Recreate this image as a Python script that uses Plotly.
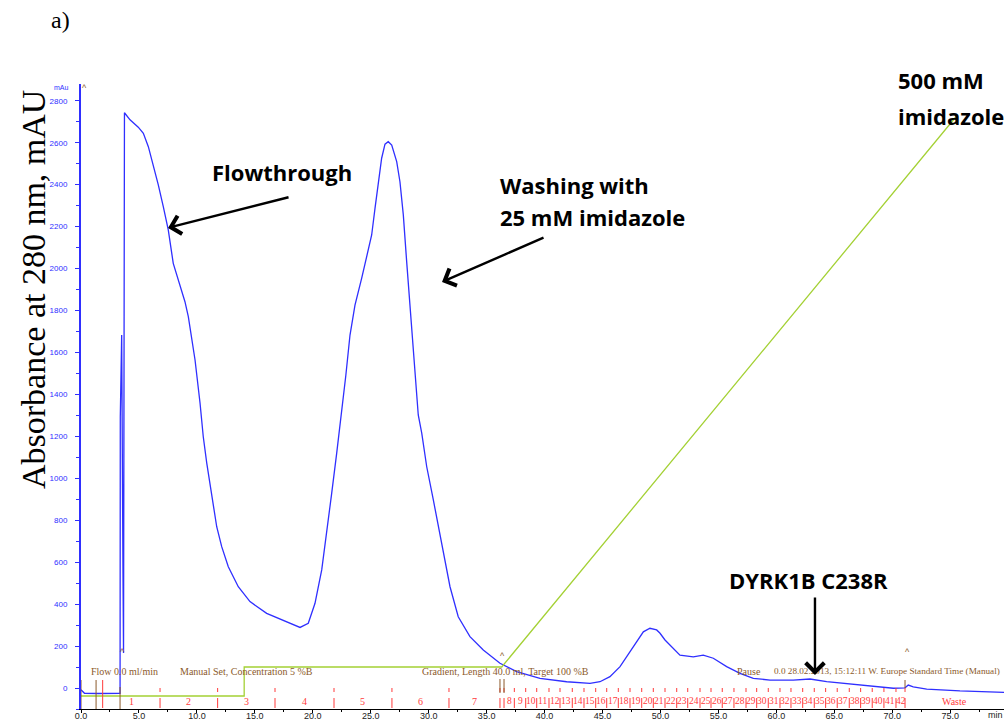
import plotly.graph_objects as go

# UV absorbance at 280 nm (time in min, absorbance in mAU)
uv_time = [0.00, 0.30, 1.50, 3.33, 3.37, 3.39, 3.51, 3.62, 3.67, 3.75, 4.23, 4.94, 5.38, 5.81,
           6.24, 6.67, 7.10, 7.53, 7.96, 8.54, 8.97, 9.26, 9.55, 9.84, 10.27, 10.55, 10.85, 11.28,
           11.71, 12.14, 12.71, 13.57, 14.58, 16.02, 17.45, 18.90, 19.61, 20.19, 20.77, 21.20,
           21.63, 22.06, 22.49, 22.85, 23.21, 23.64, 24.22, 24.79, 25.08, 25.37, 25.65, 25.94,
           26.23, 26.51, 26.81, 27.24, 27.52, 27.81, 28.10, 28.39, 28.67, 29.10, 29.40, 29.83,
           30.40, 31.12, 31.84, 32.55, 33.56, 34.71, 36.15, 37.59, 39.60, 41.91, 43.92, 44.78,
           45.64, 46.51, 47.65, 48.52, 49.09, 49.67, 49.96, 50.39, 51.68, 52.83, 53.69, 54.56,
           55.71, 56.86, 58.01, 59.45, 61.46, 62.90, 64.34, 67.21, 70.09, 71.10, 71.38, 71.81,
           72.97, 75.84, 79.64]
uv_mau = [-8, -25, -26, -25, -25, 1294, 1683, 572, 167, 2743, 2709, 2674, 2645, 2581,
          2494, 2399, 2295, 2184, 2025, 1914, 1842, 1771, 1675, 1564, 1359, 1198, 1072, 912,
          769, 674, 578, 483, 412, 356, 324, 289, 309, 404, 563, 738,
          928, 1119, 1310, 1490, 1683, 1826, 1954, 2081, 2160, 2288, 2414, 2526,
          2593, 2605, 2589, 2510, 2414, 2256, 2033, 1811, 1588, 1302, 1215, 1055,
          897, 690, 483, 340, 245, 181, 118, 78, 46, 30, 22, 30,
          54, 102, 197, 268, 285, 277, 261, 229, 157, 149, 157, 142,
          102, 70, 46, 38, 38, 43, 30, 14, -1, 1, 14, 6,
          -5, -14, -21]

# Buffer B concentration (%B)
conc_time = [0.0, 14.08, 14.08, 36.3, 75.55]
conc_b = [0, 0, 5, 5, 100]

# Fraction collector: edges of fractions 1-7 and 8-42 (min)
frac_edges_a = [1.87, 6.82, 11.79, 16.74, 21.83, 26.83, 31.75, 36.15]
frac_edges_b = [36.50, 37.39, 38.37, 39.32, 40.38, 41.33, 42.39, 43.40, 44.41, 45.36,
                46.36, 47.37, 48.38, 49.38, 50.39, 51.40, 52.35, 53.41, 54.36, 55.33,
                56.34, 57.38, 58.30, 59.30, 60.31, 61.26, 62.27, 63.27, 64.25, 65.25,
                66.29, 67.27, 68.27, 69.28, 70.32, 71.10]
waste_time = 75.4

# Run log events (min) and their texts
event_times = [0.0, 1.3, 3.37, 36.15, 36.5, 71.1]
event_texts = [
    (0.69, "Flow 0.0 ml/min", 10),
    (8.37, "Manual Set, Concentration 5 %B", 10),
    (29.25, "Gradient, Length 40.0 ml, Target 100 %B", 10),
    (56.43, "Pause", 10),
    (59.62, "0.0 28.02.2013, 15:12:11 W. Europe Standard Time (Manual)", 9.2),
]
caret_marks = [(3.6, 170), (36.35, 152), (71.3, 170)]

y_ticks = list(range(0, 2801, 200))
x_ticks = [0, 5, 10, 15, 20, 25, 30, 35, 40, 45, 50, 55, 60, 65, 70, 75]

W, H = 1006, 722
ML, MR, MT, MB = 81, 2, 84, 13
PW, PH = W - ML - MR, H - MT - MB
X_MAX = 79.64
Y_MIN, Y_MAX = -100, 2880


def xp(px):
    return (px - ML) / PW


def yp(py):
    return (H - MB - py) / PH


BLUE = "#2f2fff"
GREEN = "#a4d135"
BROWN = "#8b5a2b"
RED = "#ff3b3b"

fig = go.Figure()
fig.add_trace(go.Scatter(x=uv_time, y=uv_mau, mode="lines",
                         line=dict(color=BLUE, width=1.3), hoverinfo="skip"))
fig.add_trace(go.Scatter(x=conc_time, y=conc_b, mode="lines", yaxis="y2",
                         line=dict(color=GREEN, width=1.3), hoverinfo="skip"))

shapes = []
annotations = []

# fraction marks
all_edges = frac_edges_a + frac_edges_b
for i, t in enumerate(all_edges):
    if i == 0:
        shapes.append(dict(type="line", xref="x", yref="paper", x0=t, x1=t,
                           y0=yp(680), y1=yp(708), line=dict(color=RED, width=1)))
    else:
        shapes.append(dict(type="line", xref="x", yref="paper", x0=t, x1=t,
                           y0=yp(688), y1=yp(692), line=dict(color=RED, width=1)))
        shapes.append(dict(type="line", xref="x", yref="paper", x0=t, x1=t,
                           y0=yp(698), y1=yp(708), line=dict(color=RED, width=1)))

frac_no = 1
for edges, size in ((frac_edges_a, 10), (frac_edges_b, 9.5)):
    for a, b in zip(edges[:-1], edges[1:]):
        annotations.append(dict(x=(a + b) / 2, y=yp(701), xref="x", yref="paper",
                                text=str(frac_no), showarrow=False,
                                xanchor="center", yanchor="middle",
                                font=dict(family="Liberation Serif", size=size, color=RED)))
        frac_no += 1
annotations.append(dict(x=waste_time, y=yp(701), xref="x", yref="paper", text="Waste",
                        showarrow=False, xanchor="center", yanchor="middle",
                        font=dict(family="Liberation Serif", size=10, color=RED)))

# run log event marks
event_spans = {0.0: (680, 709), 1.3: (680, 709), 3.37: (687, 709),
               36.15: (679, 693), 36.5: (679, 693), 71.1: (680, 688)}
for t in event_times:
    top, bottom = event_spans[t]
    shapes.append(dict(type="line", xref="x", yref="paper", x0=t, x1=t,
                       y0=yp(top), y1=yp(bottom), line=dict(color=BROWN, width=1)))
for t, txt, size in event_texts:
    annotations.append(dict(x=t, y=yp(671), xref="x", yref="paper", text=txt,
                            xanchor="left", yanchor="middle", showarrow=False,
                            font=dict(family="Liberation Serif", size=size, color=BROWN)))
for t, v in caret_marks:
    annotations.append(dict(x=t, y=v, xref="x", yref="y", text="^", showarrow=False,
                            xanchor="center", yanchor="middle",
                            font=dict(family="Liberation Sans", size=9, color=BROWN)))
annotations.append(dict(x=xp(84), y=yp(88), xref="paper", yref="paper", text="^",
                        showarrow=False, xanchor="center", yanchor="middle",
                        font=dict(family="Liberation Sans", size=9, color=BROWN)))

# axis unit labels
annotations.append(dict(x=xp(61), y=yp(88), xref="paper", yref="paper", text="mAu",
                        showarrow=False, xanchor="center", yanchor="middle",
                        font=dict(family="Liberation Sans", size=7, color=BLUE)))
annotations.append(dict(x=xp(1005), y=yp(715), xref="paper", yref="paper", text="min",
                        showarrow=False, xanchor="right", yanchor="middle",
                        font=dict(family="Liberation Sans", size=9, color="#222222")))

# panel letter and axis title
annotations.append(dict(x=xp(60), y=yp(20), xref="paper", yref="paper", text="a)",
                        showarrow=False, xanchor="center", yanchor="middle",
                        font=dict(family="Liberation Serif", size=24, color="black")))
annotations.append(dict(x=xp(33), y=yp(290), xref="paper", yref="paper",
                        text="Absorbance at 280 nm, mAU", textangle=-90, showarrow=False,
                        xanchor="center", yanchor="middle",
                        font=dict(family="Liberation Serif", size=34, color="black")))

# peak labels
label_font = dict(family="Open Sans", size=22, color="black", weight="bold")
for px, py, txt in ((210, 172, "Flowthrough"), (498, 185, "Washing with"),
                    (498, 217, "25 mM imidazole"), (896, 80, "500 mM"),
                    (896, 116, "imidazole"), (727, 580, "DYRK1B C238R")):
    annotations.append(dict(x=xp(px), y=yp(py), xref="paper", yref="paper", text=txt,
                            xanchor="left", yanchor="middle", showarrow=False,
                            font=label_font))

# arrows pointing at the peaks
for t, v, ax, ay in ((7.51, 2194, 122, -31), (31.15, 1936, 103, -45),
                     (63.33, 62, 0, -79)):
    annotations.append(dict(x=t, y=v, xref="x", yref="y", text="", showarrow=True,
                            ax=ax, ay=ay, arrowhead=4, arrowsize=1.5, arrowwidth=2.4,
                            arrowcolor="black", standoff=0))

fig.update_layout(
    width=W, height=H,
    margin=dict(l=ML, r=MR, t=MT, b=MB, autoexpand=False),
    paper_bgcolor="white", plot_bgcolor="white",
    showlegend=False,
    shapes=shapes,
    annotations=annotations,
    xaxis=dict(range=[0, X_MAX], showgrid=False, zeroline=False, automargin=False,
               showline=True, linecolor="black", linewidth=1,
               tickmode="array", tickvals=x_ticks,
               ticktext=["%.1f" % v for v in x_ticks],
               ticks="outside", ticklen=3, tickcolor="black",
               ticklabelstandoff=-5,
               minor=dict(dtick=2.5, ticks="outside", ticklen=2, tickcolor="black"),
               tickfont=dict(family="Liberation Sans", size=9, color="#222222")),
    yaxis=dict(range=[Y_MIN, Y_MAX], showgrid=False, zeroline=False, automargin=False,
               showline=True, linecolor=BLUE, linewidth=2,
               tickmode="array", tickvals=y_ticks,
               ticks="outside", ticklen=4, tickcolor=BLUE,
               minor=dict(dtick=100, ticks="outside", ticklen=3, tickcolor=BLUE),
               ticklabelstandoff=6,
               tickfont=dict(family="Liberation Sans", size=8, color=BLUE)),
    yaxis2=dict(range=[-2.241, 105.52], overlaying="y", visible=False),
)

fig.write_html("out.html")
